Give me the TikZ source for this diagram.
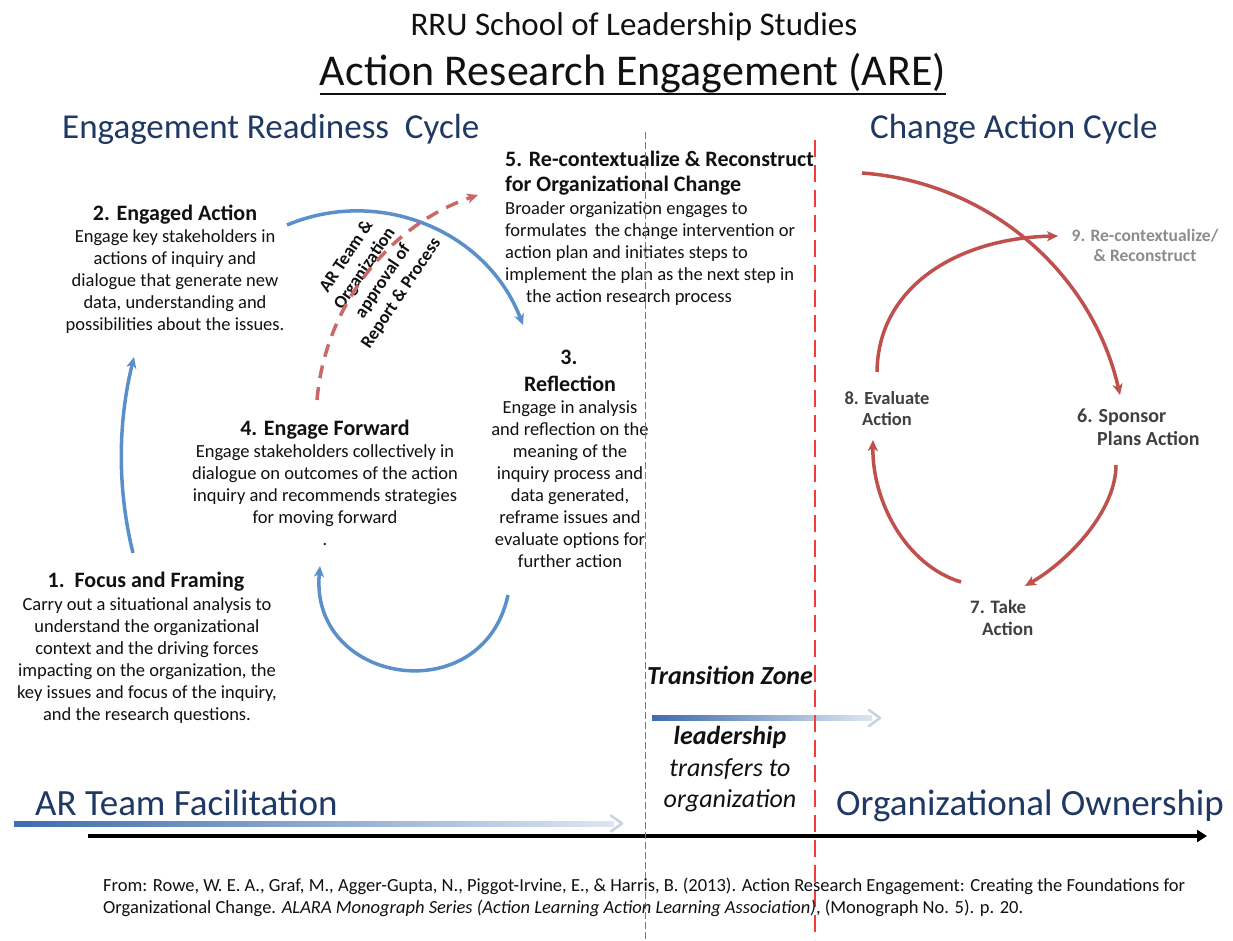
\documentclass[tikz,border=0pt]{standalone}
\usepackage{fontspec}
\setmainfont{Carlito}
\usetikzlibrary{arrows.meta,calc}

\definecolor{navy}{HTML}{1F3864}
\definecolor{cycleblue}{HTML}{5B8FCB}
\definecolor{cyclered}{HTML}{C0504D}
\definecolor{zonered}{HTML}{F23B3B}
\definecolor{zonepink}{HTML}{FF4040}
\definecolor{stepgrey}{HTML}{404040}
\definecolor{fadegrey}{HTML}{8C8C8C}
\definecolor{inkblack}{HTML}{111111}
\definecolor{fadeblue}{HTML}{DDE6F2}
\definecolor{deepblue}{HTML}{3E6DAD}

% Multi-line nodes are anchored at the baseline of their last line.
\begin{document}
\begin{tikzpicture}[x=1pt,y=-1pt,
  txt/.style={inner sep=0pt, text=inkblack},
  body/.style={txt, align=center, font=\fontsize{18.5}{22}\selectfont},
  head/.style={txt, font=\fontsize{22}{25}\selectfont\bfseries},
  steplabel/.style={txt, text=stepgrey, align=center, font=\fontsize{18.5}{21}\selectfont\bfseries},
  flowtip/.style={-{Stealth[length=11pt,width=10pt,inset=3pt]}},
  blueflow/.style={draw=cycleblue, line width=3.5pt, flowtip},
  redflow/.style={draw=cyclered, line width=3.5pt, flowtip},
  zonetext/.style={txt, font=\fontsize{26}{31}\selectfont\itshape},
  bandtext/.style={txt, text=navy, font=\fontsize{37}{44}\selectfont},
]
\useasboundingbox (0,0) rectangle (1233,940);
\fill[white] (0,0) rectangle (1233,940);

% ---------- titles ----------
\node[txt, font=\fontsize{33}{40}\selectfont, anchor=base] (school) at (634,35) {RRU School of Leadership Studies};
\node[txt, font=\fontsize{44}{52}\selectfont, anchor=base] (title) at (633,85) {Action Research Engagement (ARE)};
\draw[line width=2.5pt, inkblack] ($(title.base west)+(0,9)$) -- ($(title.base east)+(0,9)$);

\node[bandtext, font=\fontsize{35}{42}\selectfont, anchor=base west] (readiness) at (62,138) {Engagement Readiness\ \ Cycle};
\node[bandtext, font=\fontsize{35}{42}\selectfont, anchor=base west] (changecycle) at (870,138) {Change Action Cycle};

% ---------- engagement readiness cycle ----------
\node[head, align=left, anchor=base west] (s5head) at (505,191) {5. Re-contextualize \& Reconstruct\\for Organizational Change};
\node[body, align=left, anchor=base west] (s5body) at (505,302) {Broader organization engages to\\formulates\ \ the change intervention or\\action plan and initiates steps to\\implement the plan as the next step in\\\hspace*{21pt}the action research process};

\node[head, anchor=base] (s2head) at (175,220) {2. Engaged Action};
\node[body, anchor=base] (s2body) at (175,330) {Engage key stakeholders in\\actions of inquiry and\\dialogue that generate new\\data, understanding and\\possibilities about the issues.};

\node[head, anchor=base] (s3num) at (569,364) {3.};
\node[head, anchor=base] (s3head) at (570,391) {Reflection};
\node[body, anchor=base] (s3body) at (570,567) {Engage in analysis\\and reflection on the\\meaning of the\\inquiry process and\\data generated,\\reframe issues and\\evaluate options for\\further action};

\node[head, anchor=base] (s4head) at (325,435) {4. Engage Forward};
\node[body, anchor=base] (s4body) at (325,545) {Engage stakeholders collectively in\\dialogue on outcomes of the action\\inquiry and recommends strategies\\for moving forward\\.};

\node[head, anchor=base] (s1head) at (146,587) {1.\ \ Focus and Framing};
\node[body, anchor=base] (s1body) at (147,720) {Carry out a situational analysis to\\understand the organizational\\context and the driving forces\\impacting on the organization, the\\key issues and focus of the inquiry,\\and the research questions.};

\node[txt, align=center, rotate=56, font=\fontsize{18}{22}\selectfont\bfseries] (approval) at (374,275) {AR Team \&\\Organization\\approval of\\Report \& Process};

% cycle arrows (blue)
\coordinate (a1s) at (133,553); \coordinate (a1e) at (134,357);
\draw[blueflow] (a1s) .. controls (117,488) and (118,422) .. (a1e);
\coordinate (a2s) at (287,225); \coordinate (a2e) at (523,325);
\draw[blueflow] (a2s) .. controls (380,186) and (487,231) .. (a2e);
\coordinate (a3s) at (508,595); \coordinate (a3e) at (320,566);
\draw[blueflow] (a3s) .. controls (483,712) and (309,685) .. (a3e);

% approval path towards step 5
\coordinate (d1s) at (317,400); \coordinate (d1e) at (478,195);
\draw[redflow, draw=cyclered!85!white, dash pattern=on 13pt off 9pt] (d1s) .. controls (325,306) and (389,225) .. (d1e);

% ---------- change action cycle ----------
\node[steplabel, text=fadegrey, font=\fontsize{17.5}{20}\selectfont\bfseries, anchor=base] (s9) at (1145,261) {9. Re-contextualize/\\\& Reconstruct};
\node[steplabel, anchor=base] (s8) at (887,425) {8. Evaluate\\Action};
\node[steplabel, align=left, font=\fontsize{20}{23}\selectfont\bfseries, anchor=base west] (s6) at (1077,445) {6. Sponsor\\\hspace*{20pt}Plans Action};
\node[steplabel, align=left, font=\fontsize{19}{22}\selectfont\bfseries, anchor=base west] (s7) at (970,635) {7. Take\\\hspace*{12pt}Action};

\coordinate (r1s) at (862,173); \coordinate (r1e) at (1120,395);
\draw[redflow] (r1s) .. controls (988,182) and (1092,272) .. (r1e);
\coordinate (r2s) at (1116,465); \coordinate (r2e) at (1025,586);
\draw[redflow] (r2s) .. controls (1116,510) and (1070,560) .. (r2e);
\coordinate (r3s) at (961,582); \coordinate (r3e) at (873,440);
\draw[redflow] (r3s) .. controls (905,565) and (872,500) .. (r3e);
\coordinate (r4s) at (877,372); \coordinate (r4e) at (1058,236);
\draw[redflow] (r4s) .. controls (878,285) and (960,238) .. (r4e);

% ---------- transition zone ----------
\node[zonetext, font=\fontsize{26}{31}\selectfont\bfseries\itshape, anchor=base] (zone) at (730,684) {Transition Zone};
\node[zonetext, font=\fontsize{26}{31}\selectfont\bfseries\itshape, anchor=base] (lead) at (730,744) {leadership};
\node[zonetext, anchor=base] (transfer) at (730,776) {transfers to};
\node[zonetext, anchor=base] (toorg) at (730,807) {organization};

\shade[left color=deepblue, right color=fadeblue] (652,715.5) rectangle (872,720.5);
\coordinate (z1) at (869,710); \coordinate (z2) at (880,718); \coordinate (z3) at (869,726);
\draw[fadeblue!80!gray, line width=2.5pt, line join=round, line cap=round] (z1) -- (z2) -- (z3);

% ---------- ownership band ----------
\node[bandtext, anchor=base west] (facil) at (35,815) {AR Team Facilitation};
\node[bandtext, anchor=base west] (owner) at (836,815) {Organizational Ownership};

\shade[left color=deepblue, right color=fadeblue] (14,821) rectangle (614,826);
\coordinate (f1) at (611,815.5); \coordinate (f2) at (622,823.5); \coordinate (f3) at (611,831.5);
\draw[fadeblue!80!gray, line width=2.5pt, line join=round, line cap=round] (f1) -- (f2) -- (f3);

\coordinate (timeS) at (88,836); \coordinate (timeE) at (1207,836);
\draw[line width=3.5pt, -{Triangle[length=10pt,width=12pt]}] (timeS) -- (timeE);

% zone boundaries
\coordinate (zb1) at (645.5,132); \coordinate (zb2) at (645.5,940);
\draw[zonepink, line width=1.7pt, dash pattern=on 7pt off 3pt] (zb1) -- (zb2);
\coordinate (zc1) at (815,140); \coordinate (zc2) at (815,940);
\draw[zonered, line width=2.3pt, dash pattern=on 17pt off 8pt] (zc1) -- (zc2);

% ---------- source ----------
\node[txt, align=left, anchor=base west, font=\fontsize{18.5}{21.5}\selectfont] (cite) at (103,913) {From: Rowe, W. E. A., Graf, M., Agger-Gupta, N., Piggot-Irvine, E., \& Harris, B. (2013). Action Research Engagement: Creating the Foundations for\\Organizational Change. \textit{ALARA Monograph Series (Action Learning Action Learning Association)}, (Monograph No. 5). p. 20.};
\end{tikzpicture}
\end{document}
